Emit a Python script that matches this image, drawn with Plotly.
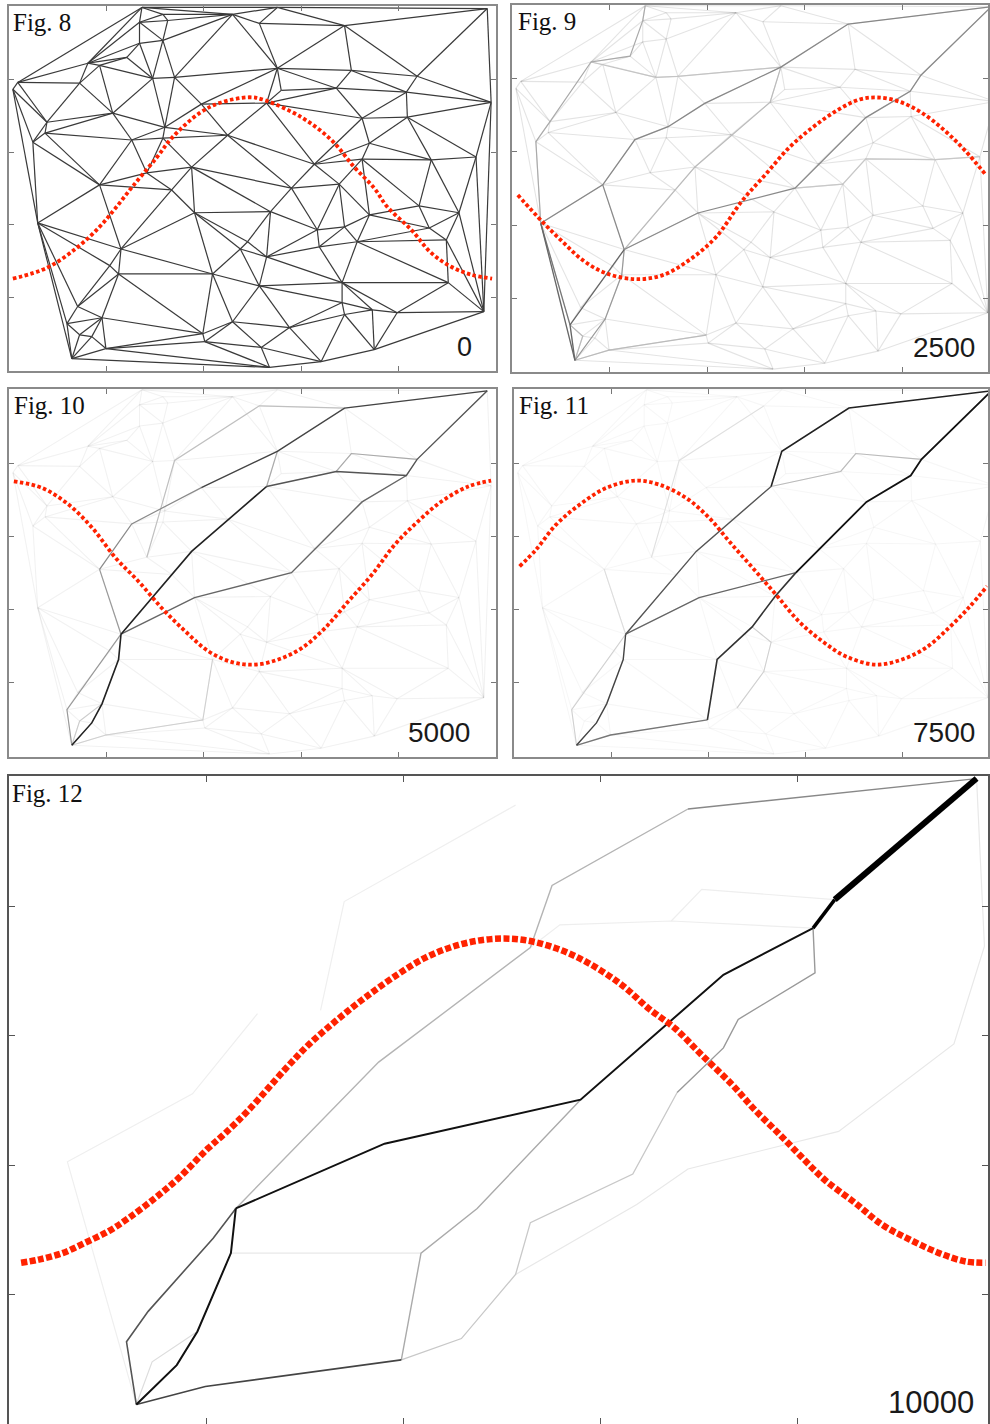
import plotly.graph_objects as go

# ---------------- DATA ----------------
# Network nodes (unit square, y up) (node ids are 1-based)
NODE_X = [0.273, 0.316, 0.268, 0.326, 0.316, 0.268, 0.242, 0.162, 0.186, 0.018,
          0.008, 0.145, 0.295, 0.340, 0.213, 0.078, 0.074, 0.049, 0.395, 0.320,
          0.316, 0.252, 0.449, 0.375, 0.283, 0.186, 0.459, 0.551, 0.514, 0.689,
          0.551, 0.703, 0.838, 0.559, 0.672, 0.816, 0.990, 0.529, 0.725, 0.818,
          0.740, 0.627, 0.725, 0.867, 0.959, 0.580, 0.678, 0.982, 0.334, 0.059,
          0.381, 0.230, 0.207, 0.225, 0.418, 0.490, 0.475, 0.141, 0.191, 0.119,
          0.145, 0.170, 0.398, 0.459, 0.199, 0.402, 0.129, 0.740, 0.842, 0.924,
          0.863, 0.633, 0.689, 0.637, 0.715, 0.898, 0.529, 0.514, 0.684, 0.902,
          0.684, 0.746, 0.797, 0.975, 0.576, 0.689, 0.518, 0.641, 0.750, 0.535,
          0.537]
NODE_Y = [1.000, 0.981, 0.959, 0.964, 0.909, 0.901, 0.862, 0.846, 0.840, 0.793,
          0.774, 0.791, 0.804, 0.807, 0.708, 0.683, 0.653, 0.628, 0.733, 0.669,
          0.639, 0.634, 0.647, 0.559, 0.543, 0.510, 0.981, 1.000, 0.956, 0.950,
          0.832, 0.826, 0.810, 0.771, 0.777, 0.766, 0.738, 0.736, 0.694, 0.697,
          0.625, 0.567, 0.581, 0.579, 0.587, 0.501, 0.512, 0.997, 0.496, 0.405,
          0.433, 0.333, 0.287, 0.264, 0.264, 0.353, 0.333, 0.174, 0.143, 0.127,
          0.096, 0.091, 0.099, 0.132, 0.058, 0.077, 0.030, 0.427, 0.452, 0.433,
          0.391, 0.386, 0.394, 0.339, 0.353, 0.358, 0.311, 0.231, 0.240, 0.240,
          0.185, 0.165, 0.157, 0.160, 0.116, 0.152, 0.061, 0.022, 0.055, 0.006,
          0.436]

# Weighted paths (node id sequences) for each time step
FIG9_PATHS = [[67, 50], [60, 50], [50, 26, 22, 20, 19, 31, 30, 48], [67, 60, 52],
              [52, 51, 46, 39, 36, 33, 48], [67, 59, 54, 52], [52, 26],
              [50, 18, 16, 8, 7, 3, 1], [52, 24, 38, 31], [67, 61, 60],
              [67, 65, 63], [8, 13, 14, 31], [46, 47, 43, 44, 45]]
FIG10_PATHS = [[67, 62, 59, 54, 52], [52, 24, 38], [38, 35, 36, 33, 48],
               [52, 51, 46, 39, 36], [19, 31, 30, 48], [67, 60, 52], [26, 52],
               [26, 22, 19], [31, 38], [35, 32, 33], [25, 14, 29, 30],
               [67, 61, 59], [67, 65, 63, 55]]
FIG11_PATHS = [[67, 62, 59, 54, 52], [52, 24, 38], [38, 31, 30, 48], [52, 51, 46],
               [46, 39, 36, 33, 48], [67, 65, 63], [63, 55, 56, 91, 46],
               [38, 35, 32, 33], [67, 60, 52], [26, 52], [25, 14, 29],
               [64, 78, 77, 56]]
FIG12_PATHS = [[67, 62, 59, 54, 52], [52, 51, 46, 39, 36], [36, 33], [33, 48],
               [67, 60, 58, 53, 52], [67, 65, 63], [63, 55, 57, 46],
               [52, 24, 38, 31, 30], [30, 48], [63, 64, 78, 77, 72, 47],
               [47, 43, 41, 40, 36], [67, 61, 59], [54, 55],
               [78, 74, 73, 69, 45, 37, 48], [38, 34, 35, 36], [35, 32, 33],
               [67, 50, 26, 22], [21, 14, 29]]

# Red wave samples
W8_X = [0.008, 0.078, 0.139, 0.186, 0.217, 0.254, 0.303, 0.336, 0.391, 0.432, 0.494,
        0.525, 0.600, 0.662, 0.709, 0.750, 0.777, 0.826, 0.867, 0.908, 0.949, 0.992]
W8_Y = [0.251, 0.281, 0.336, 0.394, 0.443, 0.506, 0.585, 0.642, 0.708, 0.736, 0.752,
        0.744, 0.697, 0.634, 0.559, 0.501, 0.449, 0.386, 0.322, 0.284, 0.262, 0.251]
W9_X = [0.012, 0.063, 0.104, 0.145, 0.193, 0.254, 0.309, 0.363, 0.418, 0.472, 0.520,
        0.568, 0.615, 0.663, 0.711, 0.748, 0.793, 0.840, 0.888, 0.929, 0.970]
W9_Y = [0.482, 0.408, 0.354, 0.304, 0.268, 0.252, 0.263, 0.304, 0.367, 0.467, 0.539,
        0.612, 0.666, 0.711, 0.743, 0.749, 0.738, 0.707, 0.657, 0.603, 0.539]
W10_X = [0.010, 0.068, 0.123, 0.171, 0.219, 0.266, 0.314, 0.362, 0.410, 0.458, 0.505,
         0.553, 0.601, 0.649, 0.697, 0.745, 0.792, 0.840, 0.888, 0.943, 0.990]
W10_Y = [0.750, 0.732, 0.686, 0.623, 0.541, 0.477, 0.404, 0.341, 0.286, 0.257, 0.250,
         0.264, 0.295, 0.350, 0.423, 0.495, 0.577, 0.641, 0.695, 0.736, 0.752]
W11_X = [0.012, 0.046, 0.087, 0.135, 0.190, 0.251, 0.299, 0.354, 0.402, 0.443, 0.491,
         0.539, 0.586, 0.634, 0.682, 0.744, 0.798, 0.846, 0.894, 0.935, 0.973]
W11_Y = [0.518, 0.564, 0.632, 0.686, 0.732, 0.752, 0.741, 0.705, 0.650, 0.586, 0.514,
         0.441, 0.368, 0.314, 0.273, 0.250, 0.264, 0.295, 0.350, 0.405, 0.464]
W12_X = [0.012, 0.030, 0.054, 0.077, 0.101, 0.121, 0.148, 0.172, 0.202, 0.219, 0.243,
         0.280, 0.304, 0.331, 0.358, 0.388, 0.422, 0.456, 0.489, 0.521, 0.555, 0.588,
         0.622, 0.649, 0.676, 0.703, 0.734, 0.757, 0.781, 0.804, 0.828, 0.859, 0.886,
         0.914, 0.944, 0.971, 0.991]
W12_Y = [0.249, 0.254, 0.264, 0.280, 0.298, 0.318, 0.349, 0.380, 0.426, 0.449, 0.485,
         0.548, 0.586, 0.622, 0.655, 0.688, 0.720, 0.740, 0.749, 0.748, 0.735, 0.712,
         0.678, 0.642, 0.611, 0.570, 0.524, 0.485, 0.449, 0.413, 0.377, 0.341, 0.308,
         0.285, 0.264, 0.251, 0.249]

FIG_LABELS = ["Fig. 8", "Fig. 9", "Fig. 10", "Fig. 11", "Fig. 12"]
STEP_LABELS = ["0", "2500", "5000", "7500", "10000"]
TICKS = [0.2, 0.4, 0.6, 0.8]

# ---------------- STYLES ----------------
FIG9_STYLES = [("#666666", 1.3), ("#777777", 1.3), ("#888888", 1.3), ("#666666", 1.3),
               ("#8a8a8a", 1.3), ("#999999", 1.2), ("#888888", 1.2), ("#aaaaaa", 1.2),
               ("#bbbbbb", 1.2), ("#bbbbbb", 1.2), ("#bbbbbb", 1.2), ("#c4c4c4", 1.2),
               ("#c8c8c8", 1.2)]
FIG10_STYLES = [("#222222", 1.6), ("#222222", 1.6), ("#555555", 1.4), ("#666666", 1.4),
                ("#444444", 1.4), ("#999999", 1.2), ("#999999", 1.2), ("#8a8a8a", 1.2),
                ("#aaaaaa", 1.2), ("#aaaaaa", 1.2), ("#c0c0c0", 1.2), ("#cccccc", 1.1),
                ("#d0d0d0", 1.1)]
FIG11_STYLES = [("#444444", 1.4), ("#555555", 1.4), ("#222222", 1.6), ("#666666", 1.4),
                ("#111111", 1.8), ("#777777", 1.3), ("#333333", 1.6), ("#bbbbbb", 1.2),
                ("#d0d0d0", 1.1), ("#dddddd", 1.1), ("#e0e0e0", 1.1), ("#d0d0d0", 1.1)]
FIG12_STYLES = [("#111111", 2.0), ("#111111", 2.0), ("#000000", 3.5), ("#000000", 6.0),
                ("#555555", 1.6), ("#444444", 1.6), ("#aaaaaa", 1.4), ("#b4b4b4", 1.4),
                ("#888888", 1.4), ("#c8c8c8", 1.3), ("#999999", 1.4), ("#dddddd", 1.2),
                ("#e8e8e8", 1.2), ("#e8e8e8", 1.2), ("#eeeeee", 1.2), ("#eeeeee", 1.2),
                ("#efefef", 1.2), ("#efefef", 1.2)]

W, H = 990, 1424
# panel frames in pixels: x_left, x_right, y_top, y_bottom, x-range, y-range
PANELS = [
    (9, 497, 6, 371, [0, 1], [-0.004, 1.004]),
    (513, 990, 5, 372, [0, 0.9755], [-0.002, 1.002]),
    (9, 497, 389, 757, [0, 1], [-0.002, 1.002]),
    (514.8, 990, 389, 757, [0, 0.9748], [-0.002, 1.002]),
    (9.3, 990, 776, 1424, [0, 0.9936], [0.0, 1.001]),
]


def delaunay_edges(xs, ys):
    pts = list(zip(xs, ys)) + [(-1000.0, -1000.0), (2000.0, -1000.0), (0.5, 2000.0)]
    n = len(xs)
    tris = [(n, n + 1, n + 2)]
    cache = {}

    def circ(t):
        (ax, ay), (bx, by), (cx, cy) = pts[t[0]], pts[t[1]], pts[t[2]]
        d = 2 * (ax * (by - cy) + bx * (cy - ay) + cx * (ay - by))
        if abs(d) < 1e-14:
            return 0.0, 0.0, float("inf")
        a2, b2, c2 = ax * ax + ay * ay, bx * bx + by * by, cx * cx + cy * cy
        ux = (a2 * (by - cy) + b2 * (cy - ay) + c2 * (ay - by)) / d
        uy = (a2 * (cx - bx) + b2 * (ax - cx) + c2 * (bx - ax)) / d
        return ux, uy, (ax - ux) ** 2 + (ay - uy) ** 2

    for i in range(n):
        px, py = pts[i]
        bad = []
        for t in tris:
            if t not in cache:
                cache[t] = circ(t)
            ux, uy, r2 = cache[t]
            if (px - ux) ** 2 + (py - uy) ** 2 < r2:
                bad.append(t)
        cnt = {}
        for t in bad:
            for e in ((t[0], t[1]), (t[1], t[2]), (t[2], t[0])):
                k = tuple(sorted(e))
                cnt[k] = cnt.get(k, 0) + 1
        bs = set(bad)
        tris = [t for t in tris if t not in bs]
        for e, c in cnt.items():
            if c == 1:
                tris.append((e[0], e[1], i))
    edges = set()
    for t in tris:
        if max(t) >= n:
            continue
        for e in ((t[0], t[1]), (t[1], t[2]), (t[2], t[0])):
            edges.add(tuple(sorted(e)))
    return sorted(edges)


EDGES = delaunay_edges(NODE_X, NODE_Y)

fig = go.Figure()


def axref(i):
    return ("x" if i == 0 else f"x{i+1}", "y" if i == 0 else f"y{i+1}")


def brightness(hexcol):
    h = hexcol.lstrip("#")
    return sum(int(h[2 * j:2 * j + 2], 16) for j in range(3))


def add_mesh(i, color, width):
    xs, ys = [], []
    for a, b in EDGES:
        xs += [NODE_X[a], NODE_X[b], None]
        ys += [NODE_Y[a], NODE_Y[b], None]
    xa, ya = axref(i)
    fig.add_trace(go.Scatter(x=xs, y=ys, mode="lines", xaxis=xa, yaxis=ya,
                             line=dict(color=color, width=width), hoverinfo="skip"))


def add_paths(i, paths, styles):
    xa, ya = axref(i)
    # draw light first, dark last
    order = sorted(range(len(paths)), key=lambda k: -brightness(styles[k][0]))
    for k in order:
        p = paths[k]
        col, w = styles[k]
        fig.add_trace(go.Scatter(x=[NODE_X[n - 1] for n in p], y=[NODE_Y[n - 1] for n in p],
                                 mode="lines", xaxis=xa, yaxis=ya,
                                 line=dict(color=col, width=w), hoverinfo="skip"))


def add_wave(i, xs, ys, width, dash):
    xa, ya = axref(i)
    fig.add_trace(go.Scatter(x=xs, y=ys, mode="lines", xaxis=xa, yaxis=ya,
                             line=dict(color="#ff2200", width=width, dash=dash, shape="spline",
                                       smoothing=1.0), hoverinfo="skip"))


# Fig 8: full mesh
add_mesh(0, "#3a3a3a", 1.2)
add_wave(0, W8_X, W8_Y, 3.8, "3.5px,2.5px")
# Fig 9
add_mesh(1, "rgba(0,0,0,0.11)", 1.1)
add_paths(1, FIG9_PATHS, FIG9_STYLES)
add_wave(1, W9_X, W9_Y, 3.8, "3.5px,2.5px")
# Fig 10
add_mesh(2, "rgba(0,0,0,0.055)", 1.1)
add_paths(2, FIG10_PATHS, FIG10_STYLES)
add_wave(2, W10_X, W10_Y, 3.8, "3.5px,2.5px")
# Fig 11
add_mesh(3, "rgba(0,0,0,0.035)", 1.1)
add_paths(3, FIG11_PATHS, FIG11_STYLES)
add_wave(3, W11_X, W11_Y, 3.8, "3.5px,2.5px")
# Fig 12
add_paths(4, FIG12_PATHS, FIG12_STYLES)
add_wave(4, W12_X, W12_Y, 6.5, "6px,2.5px")

layout = dict(width=W, height=H, margin=dict(l=0, r=0, t=0, b=0),
              paper_bgcolor="white", plot_bgcolor="white", showlegend=False)
annotations = []
for i, (x0, x1, yt, yb, xr, yr) in enumerate(PANELS):
    big = i == 4
    lc = "#555555" if big else "#8a8a8a"
    lw = 2 if big else 1.5
    common = dict(showgrid=False, zeroline=False, showline=True, linecolor=lc, linewidth=lw,
                  mirror="ticks", ticks="inside", ticklen=6 if big else 5, tickwidth=1,
                  tickcolor="#555555" if big else "#777777", tickvals=TICKS,
                  showticklabels=False, fixedrange=True)
    xk = "xaxis" if i == 0 else f"xaxis{i+1}"
    yk = "yaxis" if i == 0 else f"yaxis{i+1}"
    xa, ya = axref(i)
    layout[xk] = dict(common, domain=[x0 / W, x1 / W], range=xr, anchor=ya)
    layout[yk] = dict(common, domain=[1 - yb / H, 1 - yt / H], range=yr, anchor=xa)

# label positions (pixels): fig label left/center-y, step label right/center-y
FIG_LABEL_POS = [(11, 23), (517, 21), (12, 405), (518, 405), (10, 793)]
STEP_LABEL_POS = [(475, 347), (979, 347), (473, 732), (979, 732), (978, 1402)]
STEP_SIZES = [27, 28, 28, 28, 31]
for i in range(5):
    fx, fy = FIG_LABEL_POS[i]
    annotations.append(dict(text=FIG_LABELS[i], x=fx / W, y=1 - fy / H, xref="paper", yref="paper",
                            xanchor="left", yanchor="middle", showarrow=False,
                            font=dict(family="Liberation Serif", size=25, color="#111111")))
    sx, sy = STEP_LABEL_POS[i]
    annotations.append(dict(text=STEP_LABELS[i], x=sx / W, y=1 - sy / H, xref="paper", yref="paper",
                            xanchor="right", yanchor="middle", showarrow=False,
                            font=dict(family="Liberation Sans", size=STEP_SIZES[i], color="#1a1a1a")))
layout["annotations"] = annotations
fig.update_layout(**layout)
fig.write_html("out.html")
